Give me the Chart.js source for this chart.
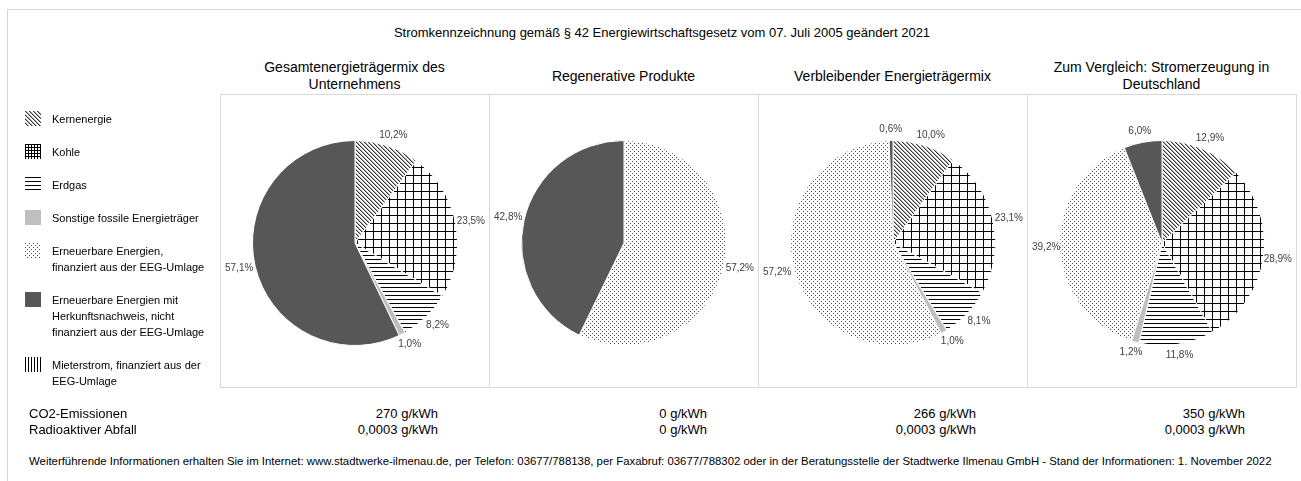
<!DOCTYPE html>
<html lang="de">
<head>
<meta charset="UTF-8">
<title>Stromkennzeichnung</title>
<script src="https://cdn.jsdelivr.net/npm/chart.js"></script>
<style>
    body { margin: 0; background: #fff; font-family: "Liberation Sans", Arial, sans-serif; color: #000; }
    #page { position: relative; width: 1301px; height: 481px; overflow: hidden; }
    #frame { position: absolute; left: 7px; top: 9px; right: -2px; bottom: -2px; border-top: 1px solid #d4d4d4; border-left: 1px solid #d4d4d4; }
    #title { position: absolute; left: 0; width: 1324px; top: 25px; text-align: center; font-size: 13px; }
    .ptitle { position: absolute; top: 59px; height: 34px; width: 269px; display: flex; align-items: center; justify-content: center; text-align: center; font-size: 14px; line-height: 17px; }
    .box { position: absolute; top: 94px; width: 268px; height: 292px; border: 1px solid #d9d9d9; }
    .box canvas { position: absolute; left: 0; top: 0; }
    #legend { position: absolute; left: 25px; top: 111px; width: 190px; font-size: 11px; line-height: 16px; }
    .item { display: flex; align-items: flex-start; margin-bottom: 17px; }
    .item canvas { flex: none; margin-right: 11px; margin-top: 0px; }
    .row { position: absolute; font-size: 13px; line-height: 16px; }
    .val { position: absolute; width: 218px; text-align: right; font-size: 13px; line-height: 16px; }
    #footer { position: absolute; left: 29px; top: 455px; font-size: 11.4px; white-space: nowrap; }
</style>
</head>
<body>
<div id="page">
    <div id="frame"></div>
    <div id="title">Stromkennzeichnung gemäß § 42 Energiewirtschaftsgesetz vom 07. Juli 2005 geändert 2021</div>
    <div id="legend"></div>
    <div class="row" style="left:29px; top:406px;">CO2-Emissionen<br>Radioaktiver Abfall</div>
    <div id="footer">Weiterführende Informationen erhalten Sie im Internet: www.stadtwerke-ilmenau.de, per Telefon: 03677/788138, per Faxabruf: 03677/788302 oder in der Beratungsstelle der Stadtwerke Ilmenau GmbH - Stand der Informationen: 1. November 2022</div>
</div>
<script>
// Energieträger (Reihenfolge im Uhrzeigersinn ab 12 Uhr)
const categories = [
    ['Kernenergie'],
    ['Kohle'],
    ['Erdgas'],
    ['Sonstige fossile Energieträger'],
    ['Erneuerbare Energien,', 'finanziert aus der EEG-Umlage'],
    ['Erneuerbare Energien mit', 'Herkunftsnachweis, nicht', 'finanziert aus der EEG-Umlage'],
    ['Mieterstrom, finanziert aus der', 'EEG-Umlage']
];
const fillTypes = ['diag', 'grid', 'hlines', 'lightgray', 'dots', 'dark', 'vlines'];

const panelTitles = [
    ['Gesamtenergieträgermix des', 'Unternehmens'],
    ['Regenerative Produkte'],
    ['Verbleibender Energieträgermix'],
    ['Zum Vergleich: Stromerzeugung in', 'Deutschland']
];

// Anteile in %
const gesamtMix   = [10.2, 23.5, 8.2, 1.0, 0, 57.1, 0];
const regenerativ = [0, 0, 0, 0, 57.2, 42.8, 0];
const verbleibend = [10.0, 23.1, 8.1, 1.0, 57.2, 0.6, 0];
const deutschland = [12.9, 28.9, 11.8, 1.2, 39.2, 6.0, 0];

// Umweltauswirkungen in g/kWh
const co2Emission = [270, 0, 266, 350];
const radioAbfall = [0.0003, 0, 0.0003, 0.0003];

const panelData = [gesamtMix, regenerativ, verbleibend, deutschland];

// fill patterns like the Excel ones (grid is finer in the legend)
function makeFill(type, small) {
    if (type === 'lightgray') return '#bfbfbf';
    if (type === 'dark') return '#575757';
    const tile = document.createElement('canvas');
    const t = tile.getContext('2d');
    if (type === 'diag') {
        tile.width = 4; tile.height = 4;
        t.fillStyle = '#fff'; t.fillRect(0, 0, 4, 4);
        for (let i = 0; i < 4; i++) {
            t.fillStyle = '#333'; t.fillRect(i, i, 1, 1);
            t.fillStyle = '#a8a8a8'; t.fillRect((i + 1) % 4, i, 1, 1);
        }
    } else if (type === 'grid') {
        const n = small ? 3 : 8;
        tile.width = n; tile.height = n;
        t.fillStyle = '#fff'; t.fillRect(0, 0, n, n);
        t.fillStyle = '#000'; t.fillRect(0, 0, n, 1); t.fillRect(0, 0, 1, n);
    } else if (type === 'hlines') {
        tile.width = 4; tile.height = 4;
        t.fillStyle = '#fff'; t.fillRect(0, 0, 4, 4);
        t.fillStyle = '#000'; t.fillRect(0, 0, 4, 1);
    } else if (type === 'vlines') {
        tile.width = 3; tile.height = 3;
        t.fillStyle = '#fff'; t.fillRect(0, 0, 3, 3);
        t.fillStyle = '#000'; t.fillRect(0, 0, 1, 3);
    } else if (type === 'dots') {
        tile.width = 4; tile.height = 4;
        t.fillStyle = '#fff'; t.fillRect(0, 0, 4, 4);
        t.fillStyle = '#505050'; t.fillRect(0, 0, 1, 1); t.fillRect(2, 2, 1, 1);
    }
    return t.createPattern(tile, 'repeat');
}
const fills = fillTypes.map(f => makeFill(f, false));

// legend
const legend = document.getElementById('legend');
categories.forEach((lines, i) => {
    const item = document.createElement('div');
    item.className = 'item';
    const sw = document.createElement('canvas');
    sw.width = 16; sw.height = 15;
    const c = sw.getContext('2d');
    c.fillStyle = makeFill(fillTypes[i], true);
    c.fillRect(0, 0, 16, 15);
    const txt = document.createElement('div');
    txt.innerHTML = lines.join('<br>');
    item.appendChild(sw);
    item.appendChild(txt);
    legend.appendChild(item);
});

// percentage labels outside the slices
const outsideLabels = {
    id: 'outsideLabels',
    afterDatasetsDraw(chart) {
        const ctx = chart.ctx;
        const meta = chart.getDatasetMeta(0);
        const values = chart.data.datasets[0].data;
        ctx.save();
        ctx.font = '10px "Liberation Sans", Arial, sans-serif';
        ctx.fillStyle = '#404040';
        ctx.textAlign = 'center';
        ctx.textBaseline = 'middle';
        meta.data.forEach((arc, i) => {
            if (!values[i]) return;
            const a = (arc.startAngle + arc.endAngle) / 2;
            const text = values[i].toFixed(1).replace('.', ',') + '%';
            const w = ctx.measureText(text).width;
            const r = arc.outerRadius + 5;
            let x = arc.x + Math.cos(a) * (r + w / 2);
            let y = arc.y + Math.sin(a) * (r + 6);
            x = Math.min(Math.max(x, w / 2 + 4), chart.width - w / 2 - 4);
            ctx.fillText(text, x, y);
        });
        ctx.restore();
    }
};

const page = document.getElementById('page');
const boxLeft = 220, boxW = 269;

panelData.forEach((values, p) => {
    const left = boxLeft + p * boxW;

    const pt = document.createElement('div');
    pt.className = 'ptitle';
    pt.style.left = left + 'px';
    pt.innerHTML = panelTitles[p].join('<br>');
    page.appendChild(pt);

    const box = document.createElement('div');
    box.className = 'box';
    box.style.left = left + 'px';
    const cv = document.createElement('canvas');
    cv.width = 268; cv.height = 292;
    cv.style.width = '268px'; cv.style.height = '292px';
    box.appendChild(cv);
    page.appendChild(box);

    new Chart(cv.getContext('2d'), {
        type: 'pie',
        data: {
            labels: categories,
            datasets: [{
                data: values,
                backgroundColor: fills,
                borderColor: '#ffffff',
                borderWidth: 1,
                hoverOffset: 0
            }]
        },
        options: {
            responsive: false,
            animation: false,
            events: [],
            layout: { padding: { left: 31, right: 31, top: 45, bottom: 41 } },
            plugins: { legend: { display: false }, tooltip: { enabled: false } }
        },
        plugins: [outsideLabels]
    });

    const fmt = v => String(v).replace('.', ',');
    const val = document.createElement('div');
    val.className = 'val';
    val.style.left = left + 'px';
    val.style.top = '406px';
    val.innerHTML = fmt(co2Emission[p]) + ' g/kWh<br>' + fmt(radioAbfall[p]) + ' g/kWh';
    page.appendChild(val);
});
</script>
</body>
</html>
